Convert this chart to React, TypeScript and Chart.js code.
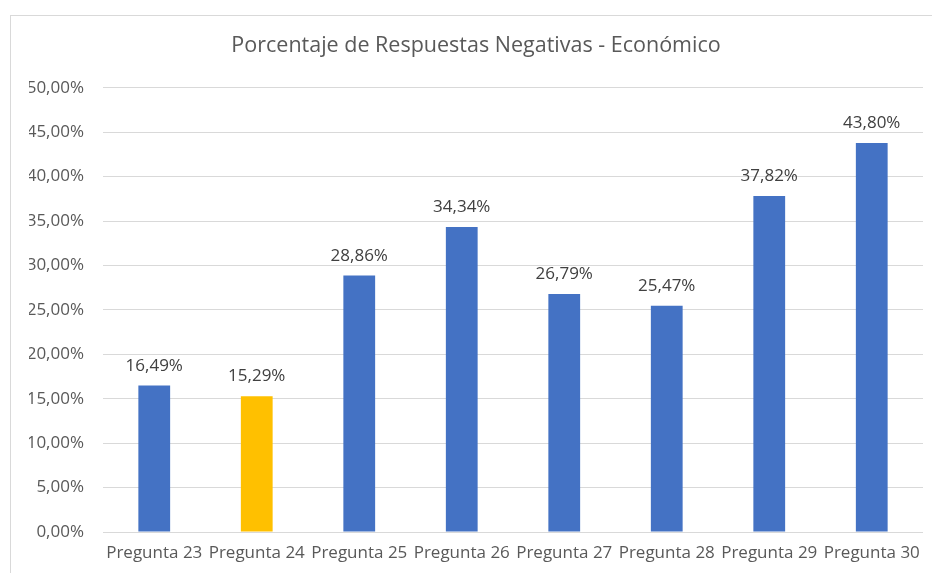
import React, { useEffect, useRef } from "react";
import { Chart, registerables } from "chart.js";

Chart.register(...registerables);

const categories = [
  "Pregunta 23",
  "Pregunta 24",
  "Pregunta 25",
  "Pregunta 26",
  "Pregunta 27",
  "Pregunta 28",
  "Pregunta 29",
  "Pregunta 30",
];
const values = [16.49, 15.29, 28.86, 34.34, 26.79, 25.47, 37.82, 43.8];
const barColors = [
  "#4472C4",
  "#FFC000",
  "#4472C4",
  "#4472C4",
  "#4472C4",
  "#4472C4",
  "#4472C4",
  "#4472C4",
];
const titleText = "Porcentaje de Respuestas Negativas - Económico";
const yMin = 0;
const yMax = 50;
const yStep = 5;

const FONT = "'Open Sans', 'Noto Sans', sans-serif";

const fmt = (v: number) => v.toFixed(2).replace(".", ",") + "%";

const dataLabelPlugin = {
  id: "dataLabels",
  afterDatasetsDraw(chart: any) {
    const ctx = chart.ctx;
    const meta = chart.getDatasetMeta(0);
    ctx.save();
    ctx.font = `17px ${FONT}`;
    ctx.fillStyle = "#404040";
    ctx.textAlign = "center";
    ctx.textBaseline = "alphabetic";
    meta.data.forEach((bar: any, i: number) => {
      ctx.fillText(fmt(values[i]), bar.x, bar.y - 15);
    });
    ctx.restore();
  },
};

export default function App() {
  const ref = useRef<HTMLCanvasElement | null>(null);
  useEffect(() => {
    if (!ref.current) return;
    const chart = new Chart(ref.current, {
      type: "bar",
      data: {
        labels: categories,
        datasets: [
          {
            data: values,
            backgroundColor: barColors,
            borderWidth: 0,
            barPercentage: 0.31,
            categoryPercentage: 1,
          },
        ],
      },
      options: {
        responsive: false,
        animation: false,
        layout: { padding: { left: 18, right: 18, top: 0, bottom: 0 } },
        plugins: {
          legend: { display: false },
          tooltip: { enabled: false },
          title: {
            display: true,
            text: titleText,
            color: "#595959",
            font: { family: FONT, size: 21.5, weight: "normal" },
            padding: { top: 17, bottom: 29 },
          },
        },
        scales: {
          x: {
            grid: { display: false, drawTicks: false },
            border: { display: false },
            ticks: {
              color: "#595959",
              font: { family: FONT, size: 17 },
              autoSkip: false,
              maxRotation: 0,
              minRotation: 0,
              padding: 11,
            },
            afterFit(scale: any) {
              scale.height = 44;
            },
          },
          y: {
            min: yMin,
            max: yMax,
            grid: { color: "#D9D9D9", lineWidth: 1, drawTicks: false },
            border: { display: false },
            ticks: {
              stepSize: yStep,
              color: "#595959",
              font: { family: FONT, size: 17 },
              padding: 19,
              callback: (v: any) => fmt(Number(v)),
            },
            afterFit(scale: any) {
              scale.width = 74;
            },
          },
        },
      },
      plugins: [dataLabelPlugin],
    });
    return () => chart.destroy();
  }, []);

  return (
    <div
      style={{
        position: "fixed",
        left: 10,
        top: 15,
        width: 940,
        height: 580,
        border: "1px solid #D9D9D9",
        background: "#fff",
      }}
    >
      <canvas ref={ref} width={930} height={560} style={{ display: "block" }} />
    </div>
  );
}
